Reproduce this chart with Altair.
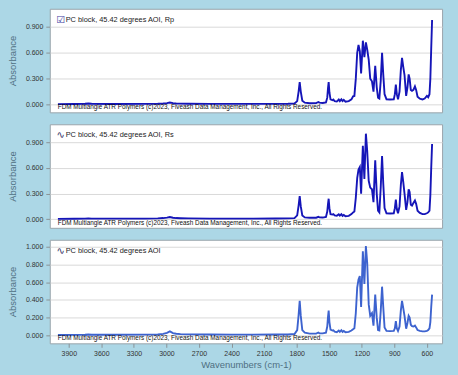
import altair as alt
import pandas as pd

wavenumber = [4000, 3850, 3750, 3720, 3690, 3500, 3200, 3080, 3030, 2995, 2968, 2940, 2910, 2870, 2800,
              2600, 2400, 2200, 2000, 1880, 1820, 1795, 1782, 1772, 1762, 1748, 1725, 1680, 1620, 1600,
              1590, 1560, 1530, 1518, 1511, 1505, 1498, 1488, 1470, 1462, 1450, 1430, 1412, 1402, 1388,
              1377, 1366, 1350, 1320, 1295, 1280, 1268, 1255, 1242, 1230, 1218, 1206, 1190, 1176, 1162,
              1150, 1136, 1122, 1106, 1092, 1076, 1062, 1050, 1038, 1025, 1013, 1002, 990, 972, 940,
              905, 895, 886, 877, 866, 852, 840, 829, 818, 806, 791, 779, 768, 759, 748,
              737, 724, 710, 699, 686, 665, 640, 620, 600, 588, 576, 568, 560, 552]

rp = [.005, .006, .009, .013, .009, .007, .008, .010, .013, .017, .024, .016, .013, .011, .009,
      .008, .008, .008, .008, .009, .012, .040, .150, .260, .150, .045, .022, .016, .017, .030,
      .022, .018, .025, .080, .190, .260, .140, .060, .050, .058, .040, .035, .058, .040, .060,
      .040, .055, .034, .040, .060, .095, .100, .300, .600, .690, .620, .360, .740, .550, .720,
      .640, .520, .300, .270, .150, .450, .200, .080, .070, .280, .600, .350, .120, .060, .058,
      .060, .120, .230, .120, .060, .150, .400, .540, .440, .340, .100, .200, .350, .300, .170,
      .160, .170, .210, .170, .090, .068, .060, .070, .100, .085, .120, .300, .650, .980]

rs = [.005, .006, .008, .011, .008, .007, .008, .010, .014, .019, .026, .018, .014, .012, .010,
      .008, .008, .008, .009, .010, .013, .045, .160, .270, .150, .045, .022, .017, .018, .028,
      .022, .020, .028, .090, .180, .240, .130, .060, .055, .060, .045, .040, .058, .042, .060,
      .040, .050, .035, .040, .060, .080, .090, .250, .480, .580, .610, .300, .860, .470, 1.00,
      .800, .450, .370, .350, .200, .690, .300, .100, .080, .380, .740, .420, .130, .070, .068,
      .070, .130, .230, .120, .070, .150, .400, .550, .440, .300, .110, .200, .350, .320, .170,
      .160, .190, .220, .180, .100, .075, .060, .060, .070, .080, .100, .280, .600, .880]

aoi = [.004, .005, .007, .009, .007, .007, .008, .010, .016, .028, .045, .026, .018, .014, .011,
       .009, .008, .008, .009, .010, .015, .060, .230, .390, .220, .060, .030, .020, .020, .032,
       .024, .022, .030, .100, .210, .280, .150, .065, .055, .058, .042, .036, .055, .040, .058,
       .040, .050, .035, .040, .055, .070, .080, .250, .540, .630, .670, .320, .950, .580, 1.01,
       .820, .350, .220, .250, .110, .460, .200, .060, .055, .280, .550, .320, .090, .050, .048,
       .050, .080, .160, .080, .050, .100, .280, .390, .310, .220, .075, .140, .220, .200, .120,
       .105, .100, .110, .090, .060, .050, .045, .045, .050, .060, .080, .150, .320, .460]

assert len(wavenumber) == len(rp) == len(rs) == len(aoi)

panel_titles = ["PC block, 45.42 degrees AOI, Rp",
                "PC block, 45.42 degrees AOI, Rs",
                "PC block, 45.42 degrees AOI"]
panel_icons = ["\u2611", "\u223f", "\u223f"]
footer = "FDM Multiangle ATR Polymers (c)2023, Fiveash Data Management, Inc., All Rights Reserved."
x_ticks = [3900, 3600, 3300, 3000, 2700, 2400, 2100, 1800, 1500, 1200, 900, 600]
y_ticks_top = [0.0, 0.3, 0.6, 0.9]
y_ticks_bottom = [0.0, 0.2, 0.4, 0.6, 0.8, 1.0]

W, H = 394, 104
FONT = "Liberation Sans"
TITLE_COLOR = "#4f6f82"
LABEL_COLOR = "#333333"

xscale = alt.Scale(domain=[4075, 460], nice=False, zero=False)


def panel(values, color, title, icon, yticks, ydomain, show_x, icon_color):
    df = pd.DataFrame({"wn": wavenumber, "absorbance": values})
    if show_x:
        xaxis = alt.Axis(values=x_ticks, format="d", title="Wavenumbers (cm-1)", grid=False,
                         domain=False, tickSize=4, tickColor="#8a9296", labelPadding=2,
                         labelFontSize=7, labelColor=LABEL_COLOR, labelFont=FONT,
                         titleFont=FONT, titleFontSize=9.5, titleColor=TITLE_COLOR,
                         titleFontWeight="normal", titlePadding=3)
    else:
        xaxis = None
    yaxis = alt.Axis(values=yticks, format=".3f", title="Absorbance", grid=True,
                     gridColor="#d9d9d9", domain=False, tickSize=4, tickColor="#8a9296",
                     labelPadding=3, labelFontSize=7, labelColor=LABEL_COLOR, labelFont=FONT,
                     titleFont=FONT, titleFontSize=9.5, titleColor=TITLE_COLOR,
                     titleFontWeight="normal", titleX=-37, titleY=H / 2,
                     titleBaseline="middle", titleAlign="center")
    line = alt.Chart(df).mark_line(color=color, strokeWidth=1.9, clip=True).encode(
        x=alt.X("wn:Q", scale=xscale, axis=xaxis),
        y=alt.Y("absorbance:Q", scale=alt.Scale(domain=ydomain, nice=False, zero=False),
                axis=yaxis),
        order=alt.Order("idx:Q"),
    ).transform_window(idx="row_number()")
    icon_t = alt.Chart(pd.DataFrame({"t": [icon]})).mark_text(
        font="DejaVu Sans", fontSize=10, color=icon_color, align="center", baseline="middle"
    ).encode(x=alt.value(11), y=alt.value(11), text="t:N")
    title_t = alt.Chart(pd.DataFrame({"t": [title]})).mark_text(
        font=FONT, fontSize=7.4, color="#222222", align="left", baseline="middle"
    ).encode(x=alt.value(16), y=alt.value(11), text="t:N")
    foot_t = alt.Chart(pd.DataFrame({"t": [footer]})).mark_text(
        font=FONT, fontSize=6.4, color="#111111", align="left", baseline="middle"
    ).encode(x=alt.value(8), y=alt.value(99), text="t:N")
    return alt.layer(line, foot_t, icon_t, title_t).properties(width=W, height=H)


p1 = panel(rp, "#1515b8", panel_titles[0], panel_icons[0], y_ticks_top, [-0.09, 1.11], False, "#3b3b9e")
p2 = panel(rs, "#1515b8", panel_titles[1], panel_icons[1], y_ticks_top, [-0.10, 1.11], False, "#333366")
p3 = panel(aoi, "#3d63cf", panel_titles[2], panel_icons[2], y_ticks_bottom, [-0.09, 1.08], True, "#333366")

chart = alt.vconcat(p1, p2, p3, spacing=10).properties(
    background="#acd7e6",
    padding={"left": 7, "top": 7, "right": 15, "bottom": 5},
).configure_view(stroke="#9aa4aa", strokeWidth=1, fill="white")

chart.save("out.html", embed_options={"renderer": "svg", "actions": False})
